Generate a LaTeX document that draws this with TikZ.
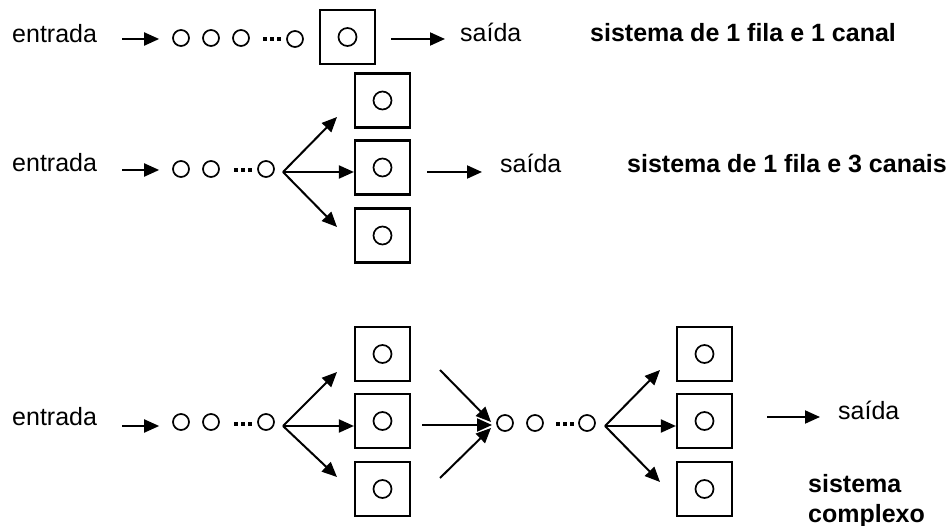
\documentclass[tikz,border=0pt]{standalone}
\usepackage{fontspec}
\setmainfont{Liberation Sans}
\usetikzlibrary{arrows.meta}
\tikzset{
  txt/.style={inner sep=0pt, font=\fontsize{25}{30}\selectfont},
  btxt/.style={inner sep=0pt, font=\fontsize{25}{30}\selectfont\bfseries, align=left},
  qc/.style={circle, draw, line width=1.7pt, minimum size=16pt, inner sep=0pt},
  bc/.style={circle, draw, line width=1.7pt, minimum size=18pt, inner sep=0pt},
  srv/.style={rectangle, draw, line width=2.2pt, minimum width=55pt, minimum height=54pt, inner sep=0pt},
  arr/.style={line width=2pt, -{Triangle[length=15pt,width=13pt]}},
  dotsq/.style={fill=black, draw=none}
}
\newcommand{\qdots}[2]{%
  \fill[dotsq] (#1-9,#2-2.2) rectangle ++(4.4,4.4);
  \fill[dotsq] (#1-2.2,#2-2.2) rectangle ++(4.4,4.4);
  \fill[dotsq] (#1+4.6,#2-2.2) rectangle ++(4.4,4.4);
}
\begin{document}
\begin{tikzpicture}[x=1pt,y=-1pt]
\useasboundingbox (0,0) rectangle (948,526);

% ---------- Row 1 ----------
\node[txt, anchor=base west] (e1) at (12,43) {entrada};
\coordinate (a1s) at (122,39);
\node[qc] (q11) at (181,38) {};
\node[qc] (q12) at (211,38) {};
\node[qc] (q13) at (241,38) {};
\qdots{272}{39}
\node[qc] (q14) at (295,39) {};
\draw[arr, shorten >=13pt] (a1s) -- (q11.west |- a1s);
\node[srv] (b1) at (347.5,37) {};
\node[bc] (c1) at (b1.center) {};
\coordinate (o1s) at (391,39);
\coordinate (o1e) at (445,39);
\draw[arr] (o1s) -- (o1e);
\node[txt, anchor=base west] (s1) at (460,42) {saída};
\node[btxt, anchor=base west] (t1) at (590,42) {sistema de 1 fila e 1 canal};

% ---------- Row 2 ----------
\node[txt, anchor=base west] (e2) at (12,172) {entrada};
\coordinate (a2s) at (122,170);
\node[qc] (q21) at (181,169) {};
\node[qc] (q22) at (211,169) {};
\qdots{243}{170}
\node[qc] (q23) at (266,169) {};
\draw[arr, shorten >=13pt] (a2s) -- (q21.west |- a2s);
\node[srv] (b21) at (382.5,100.5) {};
\node[srv] (b22) at (382.5,167.5) {};
\node[srv] (b23) at (382.5,235.5) {};
\node[bc] (c21) at (b21.center) {};
\node[bc] (c22) at (b22.center) {};
\node[bc] (c23) at (b23.center) {};
\coordinate (f2) at (283,172);
\coordinate (f2u) at (337,117);
\coordinate (f2d) at (337,227);
\draw[arr] (f2) -- (f2u);
\draw[arr] (f2) -- (b22.west |- f2);
\draw[arr] (f2) -- (f2d);
\coordinate (o2s) at (427,172);
\coordinate (o2e) at (482,172);
\draw[arr] (o2s) -- (o2e);
\node[txt, anchor=base west] (s2) at (500,173) {saída};
\node[btxt, anchor=base west] (t2) at (627,173) {sistema de 1 fila e 3 canais};

% ---------- Row 3 ----------
\node[txt, anchor=base west] (e3) at (12,425) {entrada};
\coordinate (a3s) at (122,426);
\node[qc] (q31) at (181,422) {};
\node[qc] (q32) at (211,422) {};
\qdots{243}{424}
\node[qc] (q33) at (266,422) {};
\draw[arr, shorten >=13pt] (a3s) -- (q31.west |- a3s);
\node[srv] (b31) at (382.5,354) {};
\node[srv] (b32) at (382.5,421) {};
\node[srv] (b33) at (382.5,489) {};
\node[bc] (c31) at (b31.center) {};
\node[bc] (c32) at (b32.center) {};
\node[bc] (c33) at (b33.center) {};
\coordinate (f3) at (283,426);
\coordinate (f3u) at (337,372);
\coordinate (f3d) at (337,477);
\draw[arr] (f3) -- (f3u);
\draw[arr] (f3) -- (b32.west |- f3);
\draw[arr] (f3) -- (f3d);

% converging
\coordinate (m1) at (440,370);
\coordinate (m2) at (422,425);
\coordinate (m3) at (440,478);
\coordinate (j1) at (491,422);
\coordinate (j2) at (492,425);
\coordinate (j3) at (491,428);
\draw[arr] (m1) -- (j1);
\draw[arr] (m2) -- (j2);
\draw[arr] (m3) -- (j3);

\node[qc] (q34) at (505,423) {};
\node[qc] (q35) at (535,423) {};
\qdots{565}{424}
\node[qc] (q36) at (587,423) {};

\node[srv] (b34) at (704.5,354) {};
\node[srv] (b35) at (704.5,421) {};
\node[srv] (b36) at (704.5,489) {};
\node[bc] (c34) at (b34.center) {};
\node[bc] (c35) at (b35.center) {};
\node[bc] (c36) at (b36.center) {};
\coordinate (f4) at (605,426);
\coordinate (f4u) at (660,370);
\coordinate (f4d) at (660,482);
\draw[arr] (f4) -- (f4u);
\draw[arr] (f4) -- (b35.west |- f4);
\draw[arr] (f4) -- (f4d);

\coordinate (o3s) at (767,417);
\coordinate (o3e) at (820,417);
\draw[arr] (o3s) -- (o3e);
\node[txt, anchor=base west] (s3) at (838,420) {saída};
\node[btxt, anchor=north west] (t3) at (808,474) {sistema\\complexo};
\end{tikzpicture}
\end{document}
